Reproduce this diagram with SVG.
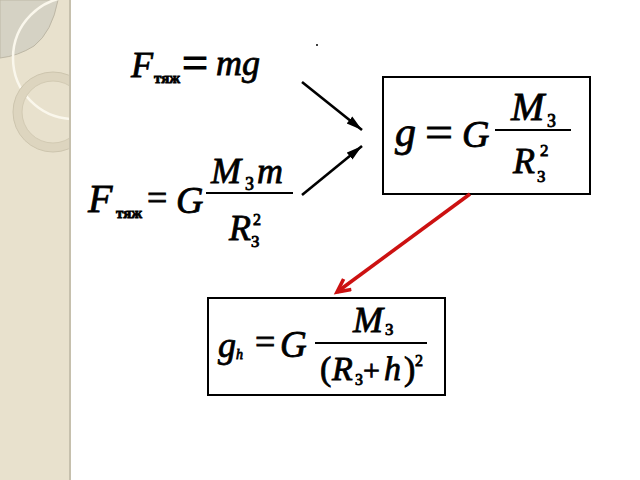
<svg xmlns="http://www.w3.org/2000/svg" width="640" height="480" viewBox="0 0 640 480">
<style>
.i{font-style:italic}
.u{font-style:normal}
.frac{stroke:#000;stroke-width:1.8}
.box{fill:#fff;stroke:#000;stroke-width:2}
.arr{stroke:#000;stroke-width:2.6;fill:none}
.red{stroke:#cc1111;stroke-width:3.6;fill:none}
</style>
<defs>
<clipPath id="panelClip"><rect x="0" y="0" width="70" height="480"/></clipPath>
<marker id="headBlack" markerUnits="userSpaceOnUse" markerWidth="20" markerHeight="12" refX="16" refY="5" orient="auto">
<path d="M0,0.5 L16,5 L0,9.5 Z" fill="#000"/>
</marker>
<marker id="headRed" markerUnits="userSpaceOnUse" markerWidth="20" markerHeight="18" refX="15" refY="8" orient="auto">
<path d="M2,1.5 L15,8 L2,14.5" fill="none" stroke="#cc1111" stroke-width="3.6"/>
</marker>
</defs>
<rect width="640" height="480" fill="#fff"/>
<g id="sidePanel">
<rect x="0" y="0" width="70" height="480" fill="#e8e1cd"/>
<g clip-path="url(#panelClip)">
<path d="M0,0 L58,0 Q52,32 34,46 Q18,56 0,58 Z" fill="#d5d2c4" stroke="#bdb7a5" stroke-width="1"/>
<circle cx="74" cy="58" r="61" fill="none" stroke="#faf7ec" stroke-width="2.5"/>
<circle cx="53" cy="112" r="35.5" fill="none" stroke="#ddd5bf" stroke-width="9"/>
<circle cx="53" cy="112" r="40" fill="none" stroke="#cdc5ae" stroke-width="1"/>
<circle cx="53" cy="112" r="31" fill="none" stroke="#d2caB3" stroke-width="1"/>
</g>
<line x1="70" y1="0" x2="70" y2="480" stroke="#c6c0ad" stroke-width="2"/>
</g>
<circle cx="317" cy="45" r="1" fill="#000"/>
<g id="texts" font-family="'Liberation Serif', 'Times New Roman', serif" fill="#000" stroke="#000" stroke-width="0.8">
<g id="formula1">
<text class="i" x="131" y="77" font-size="36">F</text>
<text class="u" x="154" y="83" font-size="15" font-weight="bold">тяж</text>
<text class="u" x="182" y="78" font-size="46" textLength="26" lengthAdjust="spacingAndGlyphs" stroke-width="1.2">=</text>
<text class="i" x="216" y="75" font-size="36">mg</text>
</g>
<g id="formula2">
<text class="i" x="88" y="212" font-size="40">F</text>
<text class="u" x="116" y="218" font-size="15" font-weight="bold">тяж</text>
<text class="u" x="147" y="210" font-size="36">=</text>
<text class="i" x="176" y="213" font-size="38">G</text>
<line class="frac" x1="206" y1="193" x2="293" y2="193"/>
<text class="i" x="211" y="183" font-size="36">M</text>
<text class="u" x="245" y="190" font-size="18">З</text>
<text class="i" x="257" y="183" font-size="36">m</text>
<text class="i" x="229" y="240" font-size="36">R</text>
<text class="u" x="253" y="225" font-size="16">2</text>
<text class="u" x="251" y="247" font-size="17">З</text>
</g>
<g id="box1">
<rect class="box" x="383" y="77" width="207" height="117"/>
<text class="i" x="395" y="146" font-size="42">g</text>
<text class="u" x="425" y="146" font-size="42" textLength="28" lengthAdjust="spacingAndGlyphs">=</text>
<text class="i" x="462" y="147" font-size="38">G</text>
<line class="frac" x1="495" y1="130" x2="571" y2="130"/>
<text class="i" x="511" y="120" font-size="40">M</text>
<text class="u" x="547" y="127" font-size="18">З</text>
<text class="i" x="513" y="173" font-size="36">R</text>
<text class="u" x="540" y="156" font-size="17">2</text>
<text class="u" x="537" y="182" font-size="17">З</text>
</g>
<g id="box2">
<rect class="box" x="208" y="298" width="237" height="97"/>
<text class="i" x="218" y="357" font-size="36">g</text>
<text class="i" x="236" y="359" font-size="14">h</text>
<text class="u" x="255" y="354" font-size="36">=</text>
<text class="i" x="280" y="357" font-size="37">G</text>
<line class="frac" x1="315" y1="343" x2="427" y2="343"/>
<text class="i" x="353" y="332" font-size="36">M</text>
<text class="u" x="385" y="335" font-size="17">З</text>
<text class="u" x="320" y="380" font-size="34">(</text>
<text class="i" x="332" y="380" font-size="34">R</text>
<text class="u" x="355" y="385" font-size="16">З</text>
<text class="u" x="363" y="380" font-size="30">+</text>
<text class="i" x="384" y="380" font-size="34">h</text>
<text class="u" x="404" y="380" font-size="34">)</text>
<text class="u" x="415" y="366" font-size="16">2</text>
</g>
</g>
<g id="connectors">
<line class="arr" x1="302" y1="82" x2="362" y2="130" marker-end="url(#headBlack)"/>
<line class="arr" x1="302" y1="195" x2="362" y2="146" marker-end="url(#headBlack)"/>
<line class="red" x1="470" y1="194" x2="337" y2="292" marker-end="url(#headRed)"/>
</g>
</svg>
